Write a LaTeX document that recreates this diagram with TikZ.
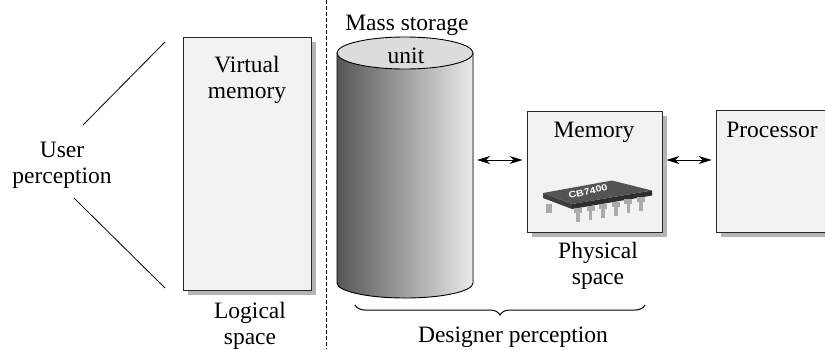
\documentclass[tikz,border=0pt]{standalone}
\usepackage{fontspec}
\setmainfont{Liberation Serif}
\newfontfamily\labelfont{Liberation Serif}
\newfontfamily\chipfont{Liberation Sans}
\usetikzlibrary{arrows.meta,decorations.pathreplacing,shadows,calc}
\definecolor{boxfill}{HTML}{F2F2F2}
\definecolor{shadowgray}{HTML}{B4B4B4}
\definecolor{cyldark}{HTML}{565656}
\definecolor{cyllight}{HTML}{EAEAEA}
\definecolor{cyltop}{HTML}{DCDCDC}
\definecolor{chiptop}{HTML}{545454}
\definecolor{chipfront}{HTML}{2E2E2E}
\definecolor{chipside}{HTML}{3E3E3E}
\definecolor{pingray}{HTML}{ABABAB}
\begin{document}
\begin{tikzpicture}[x=1pt,y=-1pt,
  lbl/.style={font=\labelfont\fontsize{23.5}{27}\selectfont, inner sep=0pt, anchor=base},
  box/.style={draw=black!85, line width=0.8pt, fill=boxfill,
    drop shadow={shadow xshift=5pt, shadow yshift=-5pt, fill=shadowgray, opacity=1}},
  link/.style={line width=1pt, >={Stealth[length=13pt,width=8pt,inset=4pt]}, <->},
  thin line/.style={line width=0.8pt},
  pin/.style={fill=pingray, draw=none},
]
\useasboundingbox (0,0) rectangle (825,349);

% Boxes
\node[box, minimum width=128pt, minimum height=253pt] (vm) at (247,163.5) {};
\node[box, minimum width=135pt, minimum height=121pt] (mem) at (594.5,171.5) {};
\node[box, minimum width=135pt, minimum height=122pt] (proc) at (783.5,171) {};

% Mass storage cylinder
\coordinate (cylR) at (473,160);
\fill[left color=cyldark, right color=cyllight]
  (337,53) -- (337,283) arc[start angle=180, end angle=360, x radius=68pt, y radius=15pt]
  -- (473,53) -- cycle;
\draw[line width=0.9pt]
  (337,53) -- (337,283) arc[start angle=180, end angle=360, x radius=68pt, y radius=15pt]
  -- (473,53);
\draw[line width=0.9pt, fill=cyltop] (405,53) ellipse[x radius=68pt, y radius=16pt];

% Dashed separator
\coordinate (sepTop) at (326,0);
\coordinate (sepBot) at (326,349);
\draw[line width=0.7pt, dash pattern=on 3.5pt off 2.5pt] (sepTop) -- (sepBot);

% Memory chip
\coordinate (A) at (543,193);
\coordinate (B) at (612,180.5);
\coordinate (C) at (652,190.5);
\coordinate (D) at (572,204);
\fill[pin] (546,204) rectangle (552,213);
\fill[chipside] (A) -- (D) -- ++(0,5) -- ($(A)+(0,5)$) -- cycle;
\fill[chipfront] (D) -- (C) -- ++(0,5) -- ($(D)+(0,5)$) -- cycle;
\fill[chiptop] (A) -- (B) -- (C) -- (D) -- cycle;
\foreach \px in {578,590.6,603.2,615.8,628.4,641} {
  \pgfmathsetmacro{\py}{204-(\px-572)*0.1688+5}
  \fill[pin] (\px-4,\py) rectangle (\px+4,\py+5);
  \fill[pin] (\px-1.8,\py+5) rectangle (\px+1.8,\py+14);
}
\node[font=\chipfont\bfseries\fontsize{9}{10}\selectfont, text=white, inner sep=0pt,
  rotate=13, xscale=1.2] (chiplabel) at (588,191.5) {CB7400};

% Connectors
\coordinate (ay) at (0,160);
\draw[link, shorten <=4pt, shorten >=4pt] (cylR) -- (mem.west |- ay);
\draw[link, shorten <=4pt, shorten >=4pt] (mem.east |- ay) -- (proc.west |- ay);

% User perception strokes
\coordinate (u1a) at (83,125);
\coordinate (u1b) at (165,42);
\coordinate (u2a) at (74,198);
\coordinate (u2b) at (165,288);
\draw[thin line] (u1a) -- (u1b);
\draw[thin line] (u2a) -- (u2b);

% Designer brace
\coordinate (brR) at (645,305);
\coordinate (brL) at (355,305);
\draw[line width=1pt, decorate, decoration={brace, amplitude=10pt}] (brR) -- (brL);

% Labels
\node[lbl] (vm1) at (247,72) {Virtual};
\node[lbl] (vm2) at (247,98) {memory};
\node[lbl] (ls1) at (250,318) {Logical};
\node[lbl] (ls2) at (250,344) {space};
\node[lbl] (up1) at (62,157) {User};
\node[lbl] (up2) at (62,183) {perception};
\node[lbl] (ms1) at (407,30) {Mass storage};
\node[lbl] (ms2) at (406,63) {unit};
\node[lbl] (memlbl) at (594,137) {Memory};
\node[lbl] (proclbl) at (772,137) {Processor};
\node[lbl] (ps1) at (598,258) {Physical};
\node[lbl] (ps2) at (598,284) {space};
\node[lbl] (dp) at (513,342) {Designer perception};
\end{tikzpicture}
\end{document}
